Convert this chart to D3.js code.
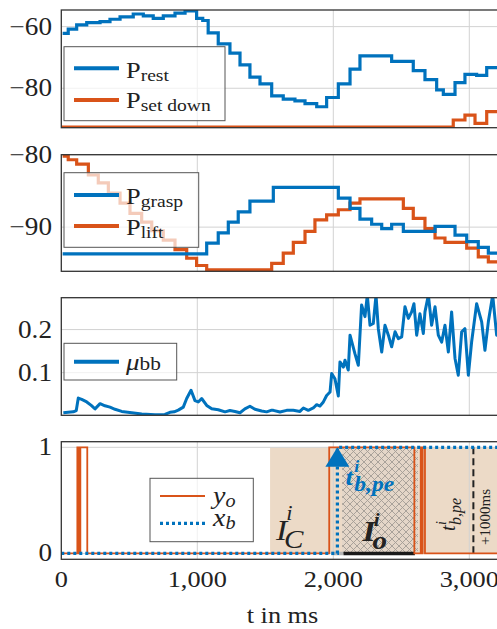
<!DOCTYPE html>
<html><head><meta charset="utf-8">
<script src="https://cdn.jsdelivr.net/npm/d3@7"></script>
<style>
body{margin:0;background:#fff}
svg{display:block}
text{font-family:"Liberation Serif","Times New Roman",serif;fill:#222}
</style>
</head><body>
<svg id="c" width="497" height="629"></svg>
<script>
// ---------------- data ----------------
const tTicks = [0, 1000, 2000, 3000];

const pRestT = [10,51,113,187,285,358,432,529,603,676,750,836,910,995,1040,1080,1154,1240,1314,1387,1461,1547,1632,1718,1792,1878,1951,2037,2123,2196,2429,2588,2674,2760,2809,2895,2968,3054,3128,3300];
const pRestV = [-62.2,-60.8,-59.4,-58.7,-58.4,-57.6,-56.8,-55.9,-56.5,-57.3,-56.5,-55.6,-54.9,-57.3,-58.0,-62.0,-65.6,-68.6,-72.4,-76.4,-78.6,-82.5,-83.5,-84.1,-85.0,-86.0,-83.0,-78.6,-73.8,-69.5,-71.3,-74.3,-77.2,-80.5,-82.0,-78.2,-75.5,-75.8,-73.3,-73.3];
const pSetT = [0,2882,2968,3042,3128,3300];
const pSetV = [-92.6,-90.3,-88.7,-91.4,-87.6,-87.6];

const pGraspT = [10,1069,1154,1228,1301,1387,1559,2037,2123,2196,2282,2356,2429,2515,2748,2895,2981,3066,3140,3300];
const pGraspV = [-93.7,-92.2,-90.8,-89.3,-87.9,-86.4,-84.5,-86.0,-87.4,-88.9,-89.6,-90.2,-89.6,-90.6,-89.9,-91.1,-92.0,-92.8,-93.6,-93.6];
const pLiftT = [10,51,113,199,272,346,432,505,591,665,750,836,922,995,1069,1547,1632,1706,1792,1865,1951,2037,2123,2196,2515,2588,2674,2748,2821,2981,3066,3140,3300];
const pLiftV = [-80.2,-80.7,-81.3,-82.8,-83.9,-85.3,-86.7,-88.1,-89.3,-90.5,-91.8,-93.1,-94.3,-95.3,-95.9,-95.0,-93.6,-92.1,-90.6,-89.0,-88.3,-87.6,-86.7,-86.1,-87.4,-88.8,-90.2,-91.5,-92.1,-92.9,-94.1,-94.8,-94.8];

const muT = [15,50,88,110,125,150,187,220,248,285,321,358,395,444,518,591,689,762,799,830,860,897,922,954,983,1007,1032,1069,1106,1154,1204,1240,1277,1314,1350,1387,1424,1473,1510,1547,1559,1608,1657,1706,1755,1780,1816,1853,1878,1902,1927,1951,1976,1988,2012,2037,2049,2074,2086,2110,2123,2159,2184,2208,2233,2250,2270,2294,2314,2331,2356,2380,2405,2429,2454,2478,2503,2527,2552,2576,2593,2613,2637,2662,2674,2699,2723,2748,2772,2797,2821,2846,2870,2895,2919,2944,2968,2993,3017,3054,3091,3115,3140,3172,3201,3230];
const muV = [0.007,0.008,0.009,0.012,0.041,0.038,0.032,0.024,0.016,0.028,0.023,0.020,0.015,0.010,0.007,0.004,0.002,0.003,0.008,0.009,0.013,0.020,0.040,0.059,0.035,0.032,0.040,0.024,0.016,0.014,0.009,0.012,0.010,0.007,0.016,0.022,0.015,0.011,0.009,0.013,0.0125,0.0086,0.0125,0.0125,0.010,0.018,0.0125,0.018,0.0256,0.0225,0.032,0.047,0.055,0.098,0.086,0.046,0.125,0.113,0.129,0.106,0.187,0.144,0.117,0.257,0.230,0.28,0.210,0.214,0.28,0.202,0.148,0.210,0.187,0.160,0.195,0.179,0.183,0.253,0.226,0.241,0.260,0.187,0.237,0.191,0.241,0.28,0.210,0.253,0.187,0.171,0.210,0.148,0.241,0.133,0.094,0.195,0.202,0.094,0.171,0.260,0.218,0.152,0.218,0.28,0.187,0.20];

const yoT = [0,118,130,140,191,1970,2596,2643,2650,2657,2674,3300];
const yoV = [0,1,0,1,0,1,0,1,0,1,0,0];
const xbT = [0,2030,3300];
const xbV = [0,1,1];

const tanStart = 1535, hatchStart = 2065, hatchEnd = 2622;
const ioStart = 2075, ioEnd = 2600;
const tbpe = 2030, tbpePlus = 3030;

// ---------------- setup ----------------
const svg = d3.select("#c");
const BLUE = "#0072BD", ORANGE = "#D95319";
const S = 1.12; // horizontal text stretch
const x = d3.scaleLinear().domain([0, 3300]).range([61.3, 61.3 + 3300 * 0.136]);
const defs = svg.append("defs");

const pat = defs.append("pattern").attr("id","hatch").attr("patternUnits","userSpaceOnUse")
  .attr("width",7).attr("height",7);
pat.append("rect").attr("width",7).attr("height",7).attr("fill","#e4d6c8");
pat.append("path").attr("d","M0,0L7,7M7,0L0,7M-1,6L1,8M6,-1L8,1M-1,1L1,-1M6,8L8,6")
  .attr("stroke","#a39c95").attr("stroke-width",0.9).attr("fill","none");

function stext(parent, px, py) {
  return parent.append("g").attr("transform", `translate(${px},${py}) scale(${S},1)`).append("text");
}

let clipId = 0;
function panel(top, bottom, domain, ticks, fmt) {
  const y = d3.scaleLinear().domain(domain).range([bottom, top]);
  const g = svg.append("g");
  const id = "clip" + (clipId++);
  defs.append("clipPath").attr("id", id).append("rect")
    .attr("x", x(0)).attr("y", top).attr("width", x(3300) - x(0)).attr("height", bottom - top);
  const under = g.append("g").attr("clip-path", `url(#${id})`);
  const grid = g.append("g");
  const body = g.append("g").attr("clip-path", `url(#${id})`);
  grid.selectAll("line.v").data(tTicks.slice(1)).join("line")
    .attr("x1", d => x(d)).attr("x2", d => x(d)).attr("y1", top).attr("y2", bottom)
    .attr("stroke", "#d2d2d2").attr("stroke-width", 1);
  grid.selectAll("line.h").data(ticks).join("line")
    .attr("x1", x(0)).attr("x2", x(3300)).attr("y1", d => y(d)).attr("y2", d => y(d))
    .attr("stroke", "#d2d2d2").attr("stroke-width", 1);
  ticks.forEach(d => {
    stext(g, 52, y(d)).attr("text-anchor", "end").attr("dominant-baseline", "central")
      .attr("font-size", 24.3).text(fmt(d));
  });
  return {g, under, body, y, top, bottom};
}
function frame(p) {
  p.g.append("rect").attr("x", x(0)).attr("y", p.top).attr("width", x(3300) - x(0))
    .attr("height", p.bottom - p.top).attr("fill", "none").attr("stroke", "#333").attr("stroke-width", 1.3);
}
function stepLine(p, T, V, color, w, dash) {
  const data = T.map((t, i) => [t, V[i]]);
  const line = d3.line().x(d => x(d[0])).y(d => p.y(d[1])).curve(d3.curveStepAfter);
  const path = p.body.append("path").datum(data).attr("d", line).attr("fill", "none")
    .attr("stroke", color).attr("stroke-width", w);
  if (dash) path.attr("stroke-dasharray", dash);
  return path;
}
function legend(bx, by, bw, bh, items) {
  const g = svg.append("g");
  g.append("rect").attr("x", bx).attr("y", by).attr("width", bw).attr("height", bh)
    .attr("fill", "#fff").attr("fill-opacity", 0.7).attr("stroke", "#555").attr("stroke-width", 1);
  items.forEach(it => {
    const l = g.append("line").attr("x1", it.x1).attr("x2", it.x2).attr("y1", it.y).attr("y2", it.y)
      .attr("stroke", it.color).attr("stroke-width", it.w);
    if (it.dash) l.attr("stroke-dasharray", it.dash);
    const t = stext(g, it.tx, it.y + it.by).attr("font-size", it.fs);
    t.append("tspan").text(it.main).attr("font-style", it.italic ? "italic" : "normal");
    t.append("tspan").text(it.sub).attr("font-size", it.sfs).attr("dy", it.sdy)
      .attr("font-style", it.subItalic ? "italic" : "normal");
  });
}

const fmtNeg = d => (d < 0 ? "\u2212" + Math.abs(d) : String(d));

// ---------------- panel 1 ----------------
const p1 = panel(10, 127.7, [-92.8, -54.6], [-80, -60], fmtNeg);
stepLine(p1, pSetT, pSetV, ORANGE, 3.2);
stepLine(p1, pRestT, pRestV, BLUE, 3.2);
frame(p1);
legend(64, 46.7, 161, 74, [
  {x1: 74, x2: 119, y: 68.3, color: BLUE, w: 4, tx: 126, by: 10, fs: 23.5, main: "P", sub: "rest", sfs: 17.5, sdy: 3},
  {x1: 74, x2: 119, y: 100, color: ORANGE, w: 4, tx: 126, by: 8, fs: 23.5, main: "P", sub: "set down", sfs: 17.5, sdy: 3}
]);

// ---------------- panel 2 ----------------
const p2 = panel(154.7, 271.3, [-96.1, -80], [-90, -80], fmtNeg);
stepLine(p2, pLiftT, pLiftV, ORANGE, 3.2);
stepLine(p2, pGraspT, pGraspV, BLUE, 3.2);
frame(p2);
legend(64, 172.7, 134.7, 74.6, [
  {x1: 74, x2: 119, y: 195, color: BLUE, w: 4, tx: 126, by: 9, fs: 23.5, main: "P", sub: "grasp", sfs: 17.5, sdy: 3},
  {x1: 74, x2: 119, y: 226, color: ORANGE, w: 4, tx: 126, by: 9, fs: 23.5, main: "P", sub: "lift", sfs: 17.5, sdy: 3}
]);

// ---------------- panel 3 ----------------
const p3 = panel(297.7, 415.3, [0.001, 0.274], [0.1, 0.2], d => d3.format(".1f")(d));
{
  const data = muT.map((t, i) => [t, muV[i]]);
  p3.body.append("path").datum(data)
    .attr("d", d3.line().x(d => x(d[0])).y(d => p3.y(d[1])))
    .attr("fill", "none").attr("stroke", BLUE).attr("stroke-width", 3).attr("stroke-linejoin", "round");
}
frame(p3);
legend(64, 343.3, 112.7, 36.7, [
  {x1: 74, x2: 119, y: 361.7, color: BLUE, w: 4, tx: 126, by: 8, fs: 24, main: "\u03bc", italic: true, sub: "bb", sfs: 19, sdy: 0}
]);

// ---------------- panel 4 ----------------
const p4 = panel(441.7, 559.3, [-0.055, 1.053], [0, 1], d => String(d));
p4.under.append("rect").attr("x", x(tanStart)).attr("y", p4.y(1)).attr("width", x(3300) - x(tanStart))
  .attr("height", p4.y(0) - p4.y(1)).attr("fill", "#ecdac7");
p4.body.append("rect").attr("x", x(hatchStart)).attr("y", p4.y(1)).attr("width", x(hatchEnd) - x(hatchStart))
  .attr("height", p4.y(0) - p4.y(1)).attr("fill", "url(#hatch)");
p4.body.append("line").attr("x1", x(1985)).attr("x2", x(ioStart)).attr("y1", p4.y(0)).attr("y2", p4.y(0))
  .attr("stroke", "#b5b5b5").attr("stroke-width", 3.5);
p4.body.append("line").attr("x1", x(ioStart)).attr("x2", x(ioEnd)).attr("y1", p4.y(0)).attr("y2", p4.y(0))
  .attr("stroke", "#1a1a1a").attr("stroke-width", 3.5);
p4.body.append("line").attr("x1", x(tbpePlus)).attr("x2", x(tbpePlus)).attr("y1", p4.y(1)).attr("y2", p4.y(0))
  .attr("stroke", "#222").attr("stroke-width", 2).attr("stroke-dasharray", "7,4");
stepLine(p4, yoT, yoV, ORANGE, 1.8);
stepLine(p4, xbT, xbV, BLUE, 3.2, "3,3");
{
  const cx = x(tbpe), ty = p4.y(1);
  p4.body.append("path").attr("d", `M${cx},${ty}L${cx - 12},${ty + 19.5}L${cx + 12},${ty + 19.5}Z`).attr("fill", BLUE);
}
frame(p4);

// annotations (single text elements with stacked scripts)
{
  const a = svg.append("g");
  const t1 = stext(a, x(tbpe) + 8, 485).attr("font-weight", "bold").attr("font-style", "italic").style("fill", BLUE);
  t1.append("tspan").attr("x", 0).attr("y", 0).attr("font-size", 24).text("t");
  t1.append("tspan").attr("x", 8).attr("y", -13).attr("font-size", 16).text("i");
  t1.append("tspan").attr("x", 8).attr("y", 6).attr("font-size", 21).text("b,pe");
  const t2 = stext(a, x(tanStart) + 6, 540).attr("font-style", "italic");
  t2.append("tspan").attr("x", 0).attr("y", 0).attr("font-size", 30).text("I");
  t2.append("tspan").attr("x", 9).attr("y", -20).attr("font-size", 20).text("i");
  t2.append("tspan").attr("x", 7).attr("y", 8).attr("font-size", 26).text("C");
  const t3 = stext(a, x(2215), 541).attr("font-style", "italic").attr("font-weight", "bold");
  t3.append("tspan").attr("x", 0).attr("y", 0).attr("font-size", 30).text("I");
  t3.append("tspan").attr("x", 10).attr("y", -15).attr("font-size", 19).text("i");
  t3.append("tspan").attr("x", 9).attr("y", 8).attr("font-size", 26).text("o");
  const rx = x(tbpePlus);
  const r1 = a.append("g").attr("transform", `translate(${rx - 18},531) rotate(-90)`).append("text").attr("font-style", "italic");
  r1.append("tspan").attr("x", 0).attr("y", 0).attr("font-size", 20).text("t");
  r1.append("tspan").attr("x", 6).attr("y", -9).attr("font-size", 14).text("i");
  r1.append("tspan").attr("x", 6).attr("y", 6).attr("font-size", 16).text("b,pe");
  a.append("g").attr("transform", `translate(${rx + 17},545) rotate(-90)`).append("text")
    .attr("font-size", 15).text("+1000ms");
}
legend(150, 478.3, 103.3, 63.4, [
  {x1: 160, x2: 205, y: 496, color: ORANGE, w: 1.8, tx: 213, by: 8, fs: 25, main: "y", italic: true, sub: "o", sfs: 18, sdy: 3, subItalic: true},
  {x1: 160, x2: 205, y: 523.3, color: BLUE, w: 3.2, dash: "3,3", tx: 213, by: 3, fs: 25, main: "x", italic: true, sub: "b", sfs: 18, sdy: 3, subItalic: true}
]);

// x axis
tTicks.forEach(d => {
  stext(svg, x(d), 579).attr("text-anchor", "middle").attr("dominant-baseline", "central")
    .attr("font-size", 23.5).text(d3.format(",")(d));
});
stext(svg, 282.5, 623).attr("text-anchor", "middle").attr("font-size", 23.5).text("t in ms");
</script>
</body></html>
